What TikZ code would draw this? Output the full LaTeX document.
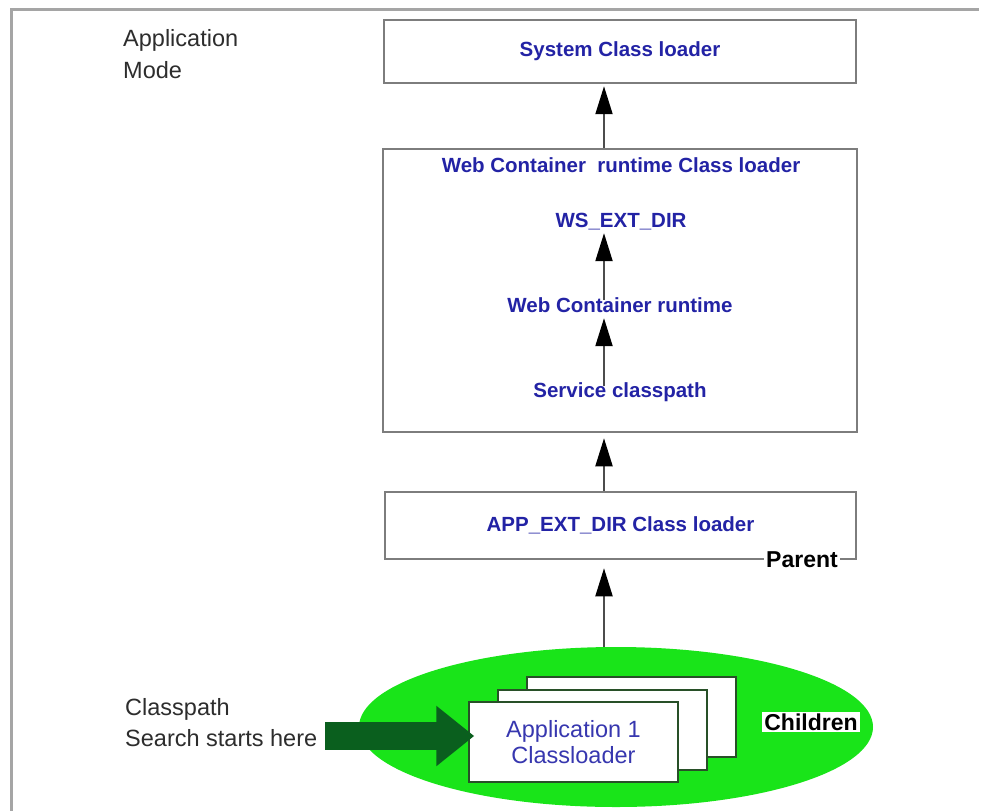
\documentclass[tikz,border=0pt]{standalone}
\usepackage{fontspec}
\setmainfont{Liberation Sans}
\usetikzlibrary{arrows.meta,shapes.geometric}
\definecolor{lblue}{RGB}{35,35,165}
\definecolor{appblue}{RGB}{55,55,175}
\definecolor{boxgray}{RGB}{125,125,125}
\definecolor{framegray}{RGB}{165,165,165}
\definecolor{bright}{RGB}{25,228,25}
\definecolor{dgreen}{RGB}{10,95,30}
\definecolor{appedge}{RGB}{40,80,40}
\definecolor{txtgray}{RGB}{45,45,45}
\begin{document}
\begin{tikzpicture}[x=1pt,y=-1pt,
  loaderbox/.style={draw=boxgray, line width=2.5pt, fill=white, inner sep=0pt,
    text=lblue, font=\fontsize{20.5}{24}\selectfont\bfseries},
  bluebold/.style={text=lblue, font=\fontsize{20.5}{24}\selectfont\bfseries,
    inner sep=0pt, text height=14.7pt, text depth=0pt},
  graylabel/.style={text=txtgray, font=\fontsize{23.5}{32}\selectfont,
    align=left, inner sep=0pt, anchor=north west},
  blacklabel/.style={font=\fontsize{23}{26}\selectfont\bfseries, fill=white,
    inner sep=2pt, text height=16.5pt, text depth=0pt},
  conn/.style={draw=black!70, line width=2pt,
    -{Triangle[length=28pt,width=17pt,color=black]}},
  appbox/.style={draw=appedge, line width=1.5pt, fill=white,
    minimum width=209pt, minimum height=80pt, inner sep=0pt},
]
\useasboundingbox (0,0) rectangle (981,810);
\fill[white] (0,0) rectangle (981,810);
\draw[framegray, line width=3pt] (11,812) -- (11,10) -- (979,10);

% loader boxes
\node[loaderbox, minimum width=472pt, minimum height=63pt] (sys) at (620,51.5) {System Class loader};
\node[loaderbox, minimum width=474pt, minimum height=283pt] (web) at (620,290.5) {};
\node[bluebold] (webtitle) at (621,165) {Web Container\ \ runtime Class loader};
\node[bluebold] (ws) at (621,220) {WS\_EXT\_DIR};
\node[bluebold] (wcr) at (620,305) {Web Container runtime};
\node[bluebold] (svc) at (620,390) {Service classpath};
\node[loaderbox, minimum width=471pt, minimum height=67pt] (app) at (620.5,525.5) {APP\_EXT\_DIR Class loader};
\node[blacklabel] (parent) at (802,559) {Parent};

% children
\node[ellipse, fill=bright, minimum width=514pt, minimum height=160pt, inner sep=0pt] (ell) at (616,727) {};
\node[appbox] (c3) at (631.5,717) {};
\node[appbox] (c2) at (602.5,730) {};
\node[appbox, text=appblue, font=\fontsize{23.5}{26}\selectfont, align=center] (c1) at (573.5,742) {Application 1\\Classloader};
\node[blacklabel] (children) at (811,722) {Children};

% labels
\node[graylabel] (mode) at (123,29.5) {Application\\Mode};
\node[graylabel, font=\fontsize{23.5}{31}\selectfont] (cp) at (125,698.5) {Classpath\\Search starts here};

% green arrow
\coordinate (gs) at (325,736);
\draw[dgreen, line width=28pt, -{Triangle[length=38pt,width=58pt]}, shorten >=-6pt] (gs) -- (gs -| c1.west);

% connectors
\coordinate (ax) at (604,0);
\draw[conn, shorten >=2pt] (web.north -| ax) -- (sys.south -| ax);
\draw[conn, shorten <=-3pt, shorten >=5.6pt] (wcr.north -| ax) -- (ws.south -| ax);
\draw[conn, shorten <=-4pt, shorten >=5.6pt] (svc.north -| ax) -- (wcr.south -| ax);
\draw[conn, shorten >=5pt] (app.north -| ax) -- (web.south -| ax);
\draw[conn, shorten >=8pt] (ell.north -| ax) -- (app.south -| ax);
\end{tikzpicture}
\end{document}
